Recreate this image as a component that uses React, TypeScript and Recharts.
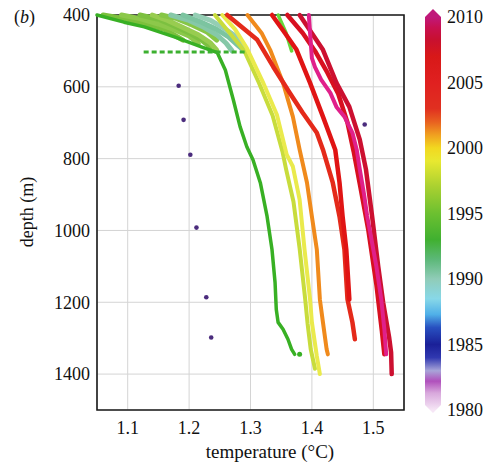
import { ScatterChart, Scatter, XAxis, YAxis, CartesianGrid, ReferenceArea } from "recharts";

const FONT = "Liberation Serif";

const tempTicks = [1.1, 1.2, 1.3, 1.4, 1.5];
const depthTicks = [400, 600, 800, 1000, 1200, 1400];
const yearTicks = [1980, 1985, 1990, 1995, 2000, 2005, 2010];

// profiles: [depth (m), temperature (°C)]
const lightGreenA = [[400, 1.06], [412, 1.1], [425, 1.13], [440, 1.16], [455, 1.175], [470, 1.19]];
const lightGreenB = [[400, 1.09], [410, 1.12], [425, 1.15], [440, 1.175], [458, 1.2], [480, 1.215]];
const lightGreenC = [[400, 1.12], [412, 1.15], [430, 1.175], [450, 1.2], [470, 1.22], [490, 1.235]];
const lightGreenD = [[400, 1.14], [415, 1.165], [435, 1.19], [455, 1.215], [478, 1.235], [498, 1.245]];
const lightGreenE = [[400, 1.155], [410, 1.18], [428, 1.205], [448, 1.23], [470, 1.245]];
const tealA = [[400, 1.17], [415, 1.2], [435, 1.225], [455, 1.245], [478, 1.26], [500, 1.27]];
const tealB = [[400, 1.19], [420, 1.22], [440, 1.245], [462, 1.265], [485, 1.28], [500, 1.29]];
const tealC = [[400, 1.21], [415, 1.235], [435, 1.255], [458, 1.275], [480, 1.285], [497, 1.292]];
const greenDash = [[503, 1.126], [503, 1.293]];
const green1993 = [
  [400, 1.05], [420, 1.094], [433, 1.127], [461, 1.176], [489, 1.22], [505, 1.246], [553, 1.259],
  [636, 1.272], [711, 1.283], [767, 1.294], [803, 1.304], [867, 1.316], [961, 1.327], [1053, 1.335],
  [1145, 1.34], [1220, 1.342], [1256, 1.345], [1275, 1.353], [1303, 1.361], [1331, 1.367], [1345, 1.372],
];
const green1996 = [[400, 1.345], [450, 1.358], [500, 1.367]];
const yellow1998 = [
  [400, 1.242], [450, 1.266], [500, 1.29], [590, 1.314], [680, 1.336], [780, 1.352], [830, 1.358],
  [920, 1.37], [1050, 1.38], [1190, 1.389], [1260, 1.393], [1330, 1.398], [1385, 1.405],
];
const yellow1999 = [
  [400, 1.254], [440, 1.275], [492, 1.294], [586, 1.32], [678, 1.343], [789, 1.359], [822, 1.369],
  [914, 1.38], [1053, 1.388], [1192, 1.397], [1256, 1.4], [1350, 1.408], [1400, 1.413],
];
const orange2001 = [
  [400, 1.295], [450, 1.318], [497, 1.332], [589, 1.353], [683, 1.369], [775, 1.38], [867, 1.392],
  [961, 1.4], [1053, 1.408], [1192, 1.413], [1256, 1.418], [1331, 1.424], [1345, 1.426],
];
const red2003 = [
  [400, 1.262], [469, 1.311], [544, 1.337], [617, 1.364], [672, 1.385], [728, 1.408], [775, 1.418],
  [867, 1.434], [961, 1.445], [1053, 1.453], [1192, 1.458], [1256, 1.466], [1303, 1.47],
];
const red2005 = [
  [400, 1.335], [450, 1.356], [497, 1.375], [589, 1.397], [683, 1.418], [775, 1.438], [867, 1.445],
  [961, 1.45], [1053, 1.456], [1192, 1.461],
];
const red2007 = [
  [400, 1.36], [450, 1.385], [500, 1.405], [560, 1.425], [620, 1.443], [700, 1.458], [780, 1.468],
  [870, 1.478], [1000, 1.492], [1150, 1.505], [1280, 1.514], [1345, 1.518],
];
const crimson2009 = [
  [400, 1.38], [497, 1.418], [589, 1.44], [656, 1.461], [747, 1.478], [830, 1.488], [960, 1.498],
  [1100, 1.508], [1200, 1.516], [1300, 1.526], [1340, 1.529], [1400, 1.53],
];
const magenta2010 = [
  [400, 1.395], [450, 1.397], [520, 1.4], [545, 1.405], [580, 1.415], [617, 1.43], [656, 1.44],
  [683, 1.453], [728, 1.466], [775, 1.473], [830, 1.478], [900, 1.485], [960, 1.49], [1006, 1.495],
  [1100, 1.505], [1192, 1.513], [1275, 1.518], [1345, 1.521],
];
const purpleDots = [[597, 1.183], [692, 1.191], [789, 1.202], [992, 1.212], [1186, 1.228], [1298, 1.236], [705, 1.486]];
const greenDots = [[1345, 1.38]];

// colour bar stops: year, colour
const barYears = [1980, 1981.3, 1982.2, 1983, 1984, 1985, 1986.3, 1987.3, 1988.5, 1990, 1991.5, 1993, 1995, 1997, 1999, 2000, 2001, 2002, 2003, 2005, 2007, 2008.3, 2009.2, 2010];
const barColors = ["#f6e6f6", "#d8a8dc", "#b050bc", "#a8a4d8", "#3038b0", "#1a2098", "#2850c0", "#50b0e8", "#88d8e8", "#90ccb8", "#5cb878", "#40b030", "#6cc030", "#a8d030", "#e8e830", "#f2d820", "#f0a020", "#e86020", "#e03020", "#e02020", "#d81818", "#c81030", "#c81050", "#c0187a"];

const profiles = [
  { data: lightGreenA, color: "#7cc03c", width: 5 },
  { data: lightGreenB, color: "#8cc84a", width: 5 },
  { data: lightGreenC, color: "#7cc040", width: 5 },
  { data: lightGreenD, color: "#98cc50", width: 5 },
  { data: lightGreenE, color: "#86c646", width: 5 },
  { data: tealA, color: "#86c8a8", width: 5 },
  { data: tealB, color: "#7cc4a0", width: 5 },
  { data: tealC, color: "#94ceb4", width: 5 },
  { data: green1993, color: "#38b024", width: 3.5 },
  { data: green1996, color: "#66d83c", width: 3.5 },
  { data: yellow1998, color: "#c8dc3c", width: 4 },
  { data: yellow1999, color: "#eaea4c", width: 4 },
  { data: orange2001, color: "#f08a1c", width: 4 },
  { data: red2003, color: "#e42a1a", width: 4.5 },
  { data: red2005, color: "#e01414", width: 4.5 },
  { data: red2007, color: "#d81020", width: 4.5 },
  { data: crimson2009, color: "#cc1030", width: 4.5 },
  { data: magenta2010, color: "#e0208a", width: 4 },
];

const toPts = (rows: number[][]) => rows.map(([d, t]) => ({ d, t }));
const noDot = () => <g />;

const barTop = 9;
const barBottom = 413;
const yearY = (y: number) => 410 - (y - 1980) * 13.1;

export default function App() {
  return (
    <div style={{ position: "absolute", left: 0, top: 0, width: 487, height: 464, background: "#fff" }}>
      <ScatterChart width={487} height={464} margin={{ top: 15, right: 83, bottom: 0, left: 0 }}>
        <CartesianGrid stroke="#d4d4d4" strokeWidth={1} />
        <XAxis
          type="number"
          dataKey="t"
          domain={[1.05, 1.55]}
          ticks={tempTicks}
          tickFormatter={(v) => v.toFixed(1)}
          height={54}
          tickSize={0}
          tickMargin={11}
          axisLine={false}
          tick={{ fill: "#111", fontSize: 18, style: { fontFamily: FONT } }}
        />
        <YAxis
          type="number"
          dataKey="d"
          reversed
          domain={[400, 1500]}
          ticks={depthTicks}
          width={97}
          tickSize={0}
          tickMargin={7}
          axisLine={false}
          tick={{ fill: "#111", fontSize: 18, style: { fontFamily: FONT } }}
        />
        {profiles.map((p, i) => (
          <Scatter
            key={i}
            data={toPts(p.data)}
            line={{ stroke: p.color, strokeWidth: p.width, strokeLinejoin: "round", strokeLinecap: "round" }}
            lineType="joint"
            shape={noDot}
            isAnimationActive={false}
          />
        ))}
        <Scatter
          data={toPts(greenDash)}
          line={{ stroke: "#3cb030", strokeWidth: 3, strokeDasharray: "5 3" }}
          lineType="joint"
          shape={noDot}
          isAnimationActive={false}
        />
        <Scatter
          data={toPts(purpleDots)}
          shape={(props: any) => <circle cx={props.cx} cy={props.cy} r={2.3} fill="#4b2c7d" />}
          isAnimationActive={false}
        />
        <Scatter
          data={toPts(greenDots)}
          shape={(props: any) => <circle cx={props.cx} cy={props.cy} r={2.5} fill="#38b024" />}
          isAnimationActive={false}
        />
        <ReferenceArea x1={1.05} x2={1.55} y1={400} y2={1500} fill="none" stroke="#1a1a1a" strokeWidth={1.6} ifOverflow="visible" />
      </ScatterChart>
      <svg width={487} height={464} style={{ position: "absolute", left: 0, top: 0, pointerEvents: "none" }}>
        <defs>
          <linearGradient id="yearbar" gradientUnits="userSpaceOnUse" x1={0} y1={yearY(1980)} x2={0} y2={yearY(2010)}>
            {barYears.map((y, i) => (
              <stop key={y} offset={(y - 1980) / 30} stopColor={barColors[i]} />
            ))}
          </linearGradient>
        </defs>
        <polygon
          points={`425,17 433,${barTop} 441,17 441,405 433,${barBottom} 425,405`}
          fill="url(#yearbar)"
        />
        {yearTicks.map((y) => (
          <text key={y} x={447} y={yearY(y)} dominantBaseline="central" fontSize={18} style={{ fontFamily: FONT }} fill="#111">
            {y}
          </text>
        ))}
        <text x={14} y={17} dominantBaseline="central" fontSize={18} style={{ fontFamily: FONT }} fill="#111">
          (<tspan fontStyle="italic">b</tspan>)
        </text>
        <text
          x={27}
          y={212}
          transform="rotate(-90 27 212)"
          textAnchor="middle"
          dominantBaseline="central"
          fontSize={18}
          style={{ fontFamily: FONT }}
          fill="#111"
        >
          depth (m)
        </text>
        <text x={270} y={458} textAnchor="middle" fontSize={19} style={{ fontFamily: FONT }} fill="#111">
          temperature (°C)
        </text>
      </svg>
    </div>
  );
}
